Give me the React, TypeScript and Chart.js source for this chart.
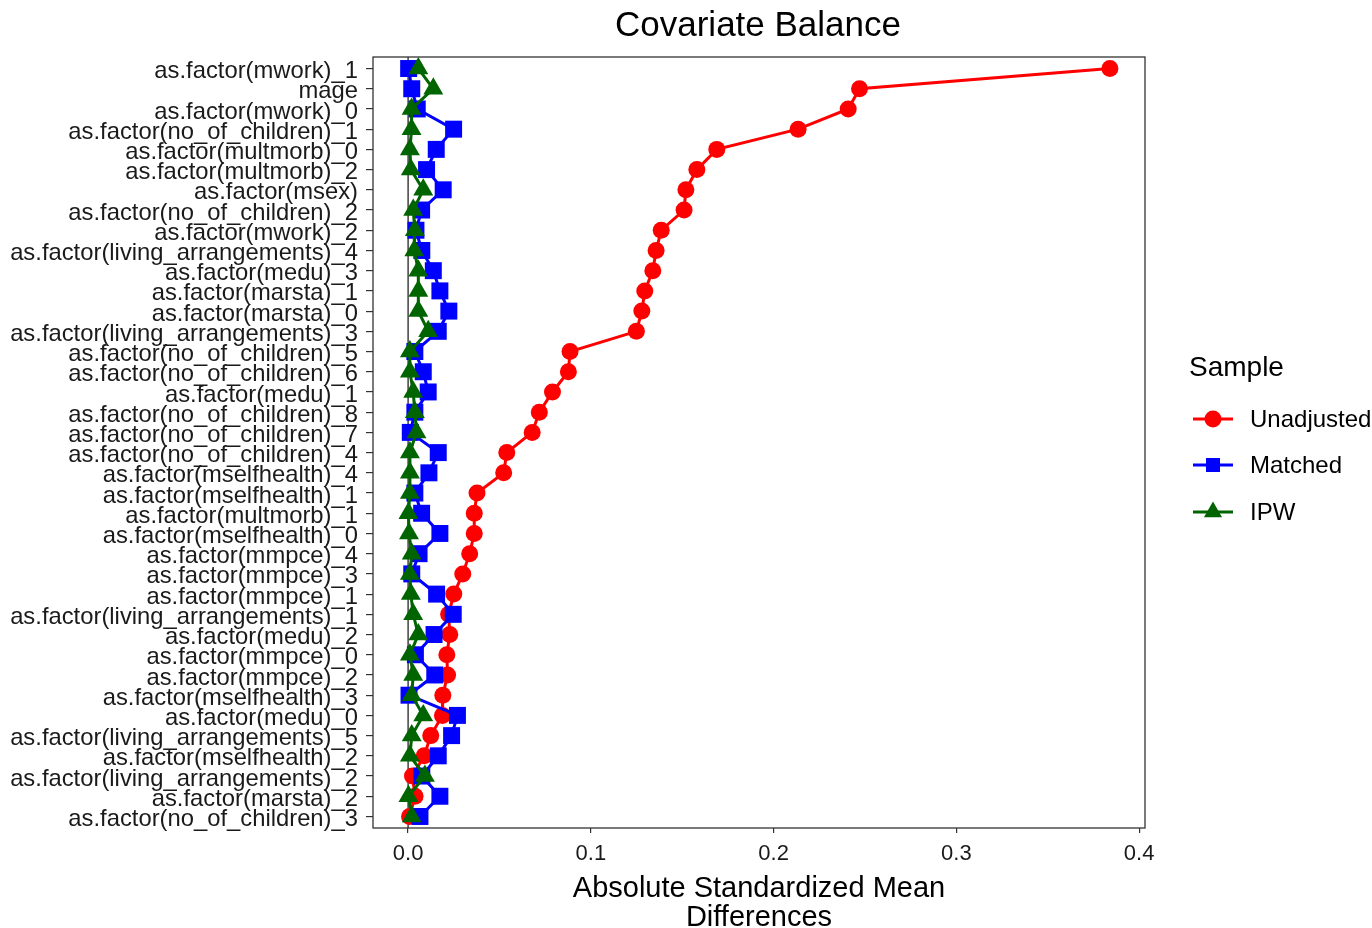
import React, { useEffect, useRef } from 'react';
import { Chart, registerables } from 'chart.js';

Chart.register(...registerables);

// Covariates in plotting order (top to bottom)
const COVARIATES = [
  'as.factor(mwork)_1',
  'mage',
  'as.factor(mwork)_0',
  'as.factor(no_of_children)_1',
  'as.factor(multmorb)_0',
  'as.factor(multmorb)_2',
  'as.factor(msex)',
  'as.factor(no_of_children)_2',
  'as.factor(mwork)_2',
  'as.factor(living_arrangements)_4',
  'as.factor(medu)_3',
  'as.factor(marsta)_1',
  'as.factor(marsta)_0',
  'as.factor(living_arrangements)_3',
  'as.factor(no_of_children)_5',
  'as.factor(no_of_children)_6',
  'as.factor(medu)_1',
  'as.factor(no_of_children)_8',
  'as.factor(no_of_children)_7',
  'as.factor(no_of_children)_4',
  'as.factor(mselfhealth)_4',
  'as.factor(mselfhealth)_1',
  'as.factor(multmorb)_1',
  'as.factor(mselfhealth)_0',
  'as.factor(mmpce)_4',
  'as.factor(mmpce)_3',
  'as.factor(mmpce)_1',
  'as.factor(living_arrangements)_1',
  'as.factor(medu)_2',
  'as.factor(mmpce)_0',
  'as.factor(mmpce)_2',
  'as.factor(mselfhealth)_3',
  'as.factor(medu)_0',
  'as.factor(living_arrangements)_5',
  'as.factor(mselfhealth)_2',
  'as.factor(living_arrangements)_2',
  'as.factor(marsta)_2',
  'as.factor(no_of_children)_3',
];

// Absolute standardized mean differences per sample
const UNADJUSTED = [
  0.384, 0.247, 0.2408, 0.2134, 0.1689, 0.158, 0.152, 0.151, 0.1385, 0.1357,
  0.1339, 0.1295, 0.1279, 0.1249, 0.0886, 0.0877, 0.079, 0.0718, 0.0679, 0.054,
  0.0523, 0.0377, 0.0362, 0.0362, 0.0337, 0.0299, 0.025, 0.0222, 0.0228, 0.0212,
  0.0216, 0.019, 0.0188, 0.0124, 0.0088, 0.0024, 0.0038, 0.0008,
];

const MATCHED = [
  0.0003, 0.002, 0.005, 0.0249, 0.0154, 0.0101, 0.0192, 0.0074, 0.0043, 0.0075,
  0.0138, 0.0174, 0.0223, 0.0165, 0.0037, 0.0083, 0.011, 0.0037, 0.0012, 0.0165,
  0.0114, 0.0037, 0.0074, 0.0174, 0.006, 0.002, 0.0156, 0.0247, 0.0142, 0.004,
  0.0146, 0.0005, 0.027, 0.0238, 0.0165, 0.0075, 0.0174, 0.0065,
];

const IPW = [
  0.0056, 0.0138, 0.0019, 0.0019, 0.001, 0.0015, 0.0083, 0.0028, 0.0037, 0.0034,
  0.0056, 0.0056, 0.0056, 0.011, 0.001, 0.001, 0.0028, 0.0037, 0.0046, 0.001,
  0.001, 0.001, 0.0002, 0.0005, 0.002, 0.001, 0.0015, 0.0028, 0.0056, 0.001,
  0.0028, 0.002, 0.0083, 0.002, 0.001, 0.0092, 0.0002, 0.002,
];

const SAMPLE_NAMES = ['Unadjusted', 'Matched', 'IPW'];
const SAMPLE_COLORS = ['#FF0000', '#0000FF', '#006400'];
const SAMPLE_SHAPES = ['circle', 'rect', 'triangle'];
const SAMPLE_RADII = [8.5, 12, 11.5];
const SAMPLE_VALUES = [UNADJUSTED, MATCHED, IPW];

const X_STEP = 0.1;
const X_MIN = -0.0192;
const X_MAX = 0.4032;

const FONT = '"Liberation Sans", Arial, Helvetica, sans-serif';

function drawMarker(ctx: CanvasRenderingContext2D, shape: string, x: number, y: number, color: string) {
  ctx.fillStyle = color;
  ctx.beginPath();
  if (shape === 'circle') {
    ctx.arc(x, y, 8.5, 0, Math.PI * 2);
  } else if (shape === 'rect') {
    ctx.rect(x - 7, y - 7, 14, 14);
  } else {
    const r = 10.5;
    ctx.moveTo(x, y - r);
    ctx.lineTo(x + r * Math.sin((2 * Math.PI) / 3), y - r * Math.cos((2 * Math.PI) / 3));
    ctx.lineTo(x + r * Math.sin((4 * Math.PI) / 3), y - r * Math.cos((4 * Math.PI) / 3));
    ctx.closePath();
  }
  ctx.fill();
}

const decorations = {
  id: 'decorations',
  beforeDatasetsDraw(chart: any) {
    const { ctx, chartArea: a, scales } = chart;
    const x0 = scales.x.getPixelForValue(0);
    ctx.save();
    ctx.strokeStyle = '#111';
    ctx.lineWidth = 1.2;
    ctx.beginPath();
    ctx.moveTo(x0, a.top);
    ctx.lineTo(x0, a.bottom);
    ctx.stroke();
    ctx.restore();
  },
  afterDraw(chart: any) {
    const { ctx, chartArea: a } = chart;
    ctx.save();

    // panel border
    ctx.strokeStyle = '#333';
    ctx.lineWidth = 1.3;
    ctx.strokeRect(a.left, a.top, a.right - a.left, a.bottom - a.top);

    // title
    ctx.fillStyle = '#000';
    ctx.font = `35px ${FONT}`;
    ctx.textAlign = 'center';
    ctx.textBaseline = 'middle';
    ctx.fillText('Covariate Balance', (a.left + a.right) / 2 - 1, 26);

    // legend
    ctx.textAlign = 'left';
    ctx.font = `28px ${FONT}`;
    ctx.fillText('Sample', 1189, 368);
    ctx.font = `24px ${FONT}`;
    const rows = [419, 465, 512];
    SAMPLE_NAMES.forEach((name, i) => {
      const y = rows[i];
      ctx.strokeStyle = SAMPLE_COLORS[i];
      ctx.lineWidth = 3;
      ctx.beginPath();
      ctx.moveTo(1193, y);
      ctx.lineTo(1233, y);
      ctx.stroke();
      drawMarker(ctx, SAMPLE_SHAPES[i], 1213, y, SAMPLE_COLORS[i]);
      ctx.fillStyle = '#000';
      ctx.fillText(name, 1250, y + 1);
    });
    ctx.restore();
  },
};

export default function App() {
  const canvasRef = useRef<HTMLCanvasElement | null>(null);

  useEffect(() => {
    const canvas = canvasRef.current;
    if (!canvas) return;

    const datasets = SAMPLE_NAMES.map((name, i) => ({
      label: name,
      data: SAMPLE_VALUES[i].map((v, k) => ({ x: v, y: k })),
      borderColor: SAMPLE_COLORS[i],
      backgroundColor: SAMPLE_COLORS[i],
      borderWidth: 3,
      pointStyle: SAMPLE_SHAPES[i],
      pointRadius: SAMPLE_RADII[i],
      pointBorderWidth: 0,
      pointBackgroundColor: SAMPLE_COLORS[i],
      tension: 0,
      fill: false,
      order: 2 - i,
    }));

    const chart = new Chart(canvas, {
      type: 'line',
      data: { datasets },
      plugins: [decorations],
      options: {
        animation: false,
        responsive: false,
        indexAxis: 'y',
        events: [],
        layout: { padding: { top: 57, right: 227, left: 0, bottom: 0 } },
        plugins: {
          legend: { display: false },
          title: { display: false },
          tooltip: { enabled: false },
        },
        scales: {
          x: {
            type: 'linear',
            min: X_MIN,
            max: X_MAX,
            afterFit(scale: any) {
              scale.height = 100;
            },
            border: { display: false },
            grid: {
              drawOnChartArea: false,
              drawTicks: true,
              tickLength: 5,
              color: '#333',
              lineWidth: 1.2,
            },
            ticks: {
              stepSize: X_STEP,
              includeBounds: false,
              padding: 8,
              color: '#1a1a1a',
              font: { family: FONT, size: 22 },
              callback: (v: any) => Number(v).toFixed(1),
            },
            title: {
              display: true,
              text: ['Absolute Standardized Mean', 'Differences'],
              color: '#000',
              font: { family: FONT, size: 29, lineHeight: '29px' },
              padding: { top: 0, bottom: -4 },
            },
          },
          y: {
            type: 'linear',
            reverse: true,
            min: -0.57,
            max: COVARIATES.length - 1 + 0.57,
            afterFit(scale: any) {
              scale.width = 373;
            },
            border: { display: false },
            grid: {
              drawOnChartArea: false,
              drawTicks: true,
              tickLength: 7,
              color: '#333',
              lineWidth: 1.2,
            },
            ticks: {
              stepSize: 1,
              includeBounds: false,
              autoSkip: false,
              padding: 8,
              labelOffset: 3,
              color: '#1a1a1a',
              font: { family: FONT, size: 23.8 },
              callback: (v: any) => COVARIATES[v] ?? '',
            },
          },
        },
      } as any,
    });

    return () => chart.destroy();
  }, []);

  return (
    <div style={{ position: 'fixed', left: 0, top: 0, width: 1372, height: 928, background: '#fff' }}>
      <canvas ref={canvasRef} width={1372} height={928} style={{ display: 'block' }} />
    </div>
  );
}
